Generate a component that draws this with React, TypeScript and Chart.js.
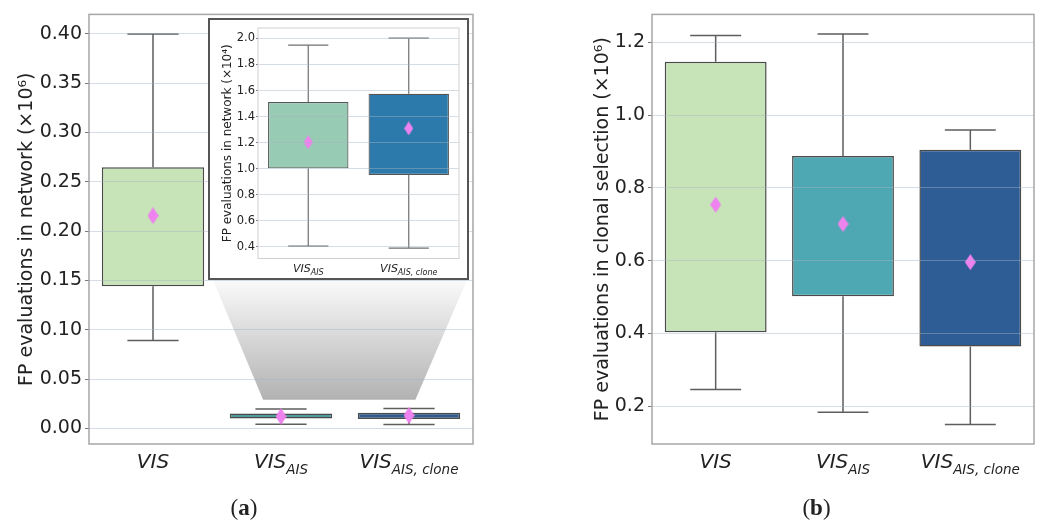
import React, { useEffect, useRef } from "react";
import { Chart, registerables } from "chart.js";

Chart.register(...registerables);

// ---------- data ----------
const CATEGORIES = ["VIS", "VIS AIS", "VIS AIS, clone"];
const CAT_MAIN = ["VIS", "VIS", "VIS"];
const CAT_SUB = ["", "AIS", "AIS, clone"];

// Panel (a): FP evaluations in network (x10^6)
const A_Q1 = [0.1442, 0.01, 0.0095];
const A_Q3 = [0.2649, 0.0151, 0.01575];
const A_MIN = [0.089, 0.00404, 0.00389];
const A_MAX = [0.4, 0.01949, 0.02];
const A_MEAN = [0.2157, 0.012, 0.0131];
const A_TICKS = [0, 0.05, 0.1, 0.15, 0.2, 0.25, 0.3, 0.35, 0.4];
const A_RANGE = [-0.0159, 0.4198];
const A_COLORS = ["#c7e3b8", "#4d9f9e", "#2f5b8c"];

// Inset of (a): FP evaluations in network (x10^4)
const IN_CATEGORIES = ["VIS AIS", "VIS AIS, clone"];
const IN_MAIN = ["VIS", "VIS"];
const IN_SUB = ["AIS", "AIS, clone"];
const IN_Q1 = [1.002, 0.952];
const IN_Q3 = [1.512, 1.575];
const IN_MIN = [0.404, 0.389];
const IN_MAX = [1.949, 2.003];
const IN_MEAN = [1.203, 1.309];
const IN_TICKS = [0.4, 0.6, 0.8, 1.0, 1.2, 1.4, 1.6, 1.8, 2.0];
const IN_RANGE = [0.3095, 2.0805];
const IN_COLORS = ["#98cbb4", "#2c7aab"];

// Zoomed region in (a) (data units)
const ZOOM_X = [0.86, 2.05];
const ZOOM_Y = 0.029;

// Panel (b): FP evaluations in clonal selection (x10^6)
const B_Q1 = [0.4035, 0.5024, 0.364];
const B_Q3 = [1.147, 0.8879, 0.9046];
const B_MIN = [0.2458, 0.1837, 0.1499];
const B_MAX = [1.2187, 1.2232, 0.9594];
const B_MEAN = [0.754, 0.701, 0.596];
const B_TICKS = [0.2, 0.4, 0.6, 0.8, 1.0, 1.2];
const B_RANGE = [0.0962, 1.2769];
const B_COLORS = ["#c7e3b8", "#4ea8b4", "#2e5d96"];

const MEAN_COLOR = "#ee82ee";
const TEXT = "#222222";
const GRID = "rgba(165,180,196,0.45)";
const FONT = "'DejaVu Sans', 'Liberation Sans', sans-serif";

// ---------- layout ----------
const INSET = { left: 208, top: 18, width: 261, height: 262, border: 2 };

function diamond(w: number, h: number, color: string) {
  const c = document.createElement("canvas");
  c.width = w;
  c.height = h;
  const x = c.getContext("2d")!;
  x.beginPath();
  x.moveTo(w / 2, 0);
  x.lineTo(w, h / 2);
  x.lineTo(w / 2, h);
  x.lineTo(0, h / 2);
  x.closePath();
  x.fillStyle = color;
  x.fill();
  return c;
}

type Spec = {
  canvas: HTMLCanvasElement;
  labels: string[];
  main: string[];
  sub: string[];
  q1: number[];
  q3: number[];
  min: number[];
  max: number[];
  mean: number[];
  colors: string[];
  range: number[];
  ticks: number[];
  digits: number;
  title: string;
  titleSize: number;
  titleX: number;
  tickSize: number;
  tickLen: number;
  tickPad: number;
  axisWidth: number;
  axisHeight: number;
  padRight: number;
  padTop: number;
  labelSize: number;
  subSize: number;
  labelOffset: number;
  subOffset: number;
  dW: number;
  dH: number;
  edgeWidth: number;
  edgeColor: string;
  whiskerWidth: number;
  whiskerColor: string;
  frameColor: string;
  frameWidth: number;
  caption?: { letter: string; x: number; y: number };
  under?: (chart: any) => void;
};

function makeChart(s: Spec) {
  const boxPlugin = {
    id: "boxparts",
    beforeDatasetsDraw(chart: any) {
      const ctx = chart.ctx;
      if (s.under) s.under(chart);
      const xs = chart.scales.x;
      const ys = chart.scales.y;
      const step = xs.getPixelForValue(1) - xs.getPixelForValue(0);
      const cap = step * 0.2;
      ctx.save();
      ctx.strokeStyle = s.whiskerColor;
      ctx.lineWidth = s.whiskerWidth;
      for (let i = 0; i < s.q1.length; i++) {
        const x = xs.getPixelForValue(i);
        const yMin = ys.getPixelForValue(s.min[i]);
        const yMax = ys.getPixelForValue(s.max[i]);
        const yQ1 = ys.getPixelForValue(s.q1[i]);
        const yQ3 = ys.getPixelForValue(s.q3[i]);
        ctx.beginPath();
        ctx.moveTo(x, yQ3);
        ctx.lineTo(x, yMax);
        ctx.moveTo(x, yQ1);
        ctx.lineTo(x, yMin);
        ctx.moveTo(x - cap, yMax);
        ctx.lineTo(x + cap, yMax);
        ctx.moveTo(x - cap, yMin);
        ctx.lineTo(x + cap, yMin);
        ctx.stroke();
      }
      ctx.restore();
    },
    afterDraw(chart: any) {
      const ctx = chart.ctx;
      const a = chart.chartArea;
      const xs = chart.scales.x;
      ctx.save();
      ctx.strokeStyle = s.frameColor;
      ctx.lineWidth = s.frameWidth;
      ctx.strokeRect(a.left, a.top, a.right - a.left, a.bottom - a.top);
      ctx.fillStyle = TEXT;
      ctx.textBaseline = "alphabetic";
      ctx.textAlign = "left";
      for (let i = 0; i < s.main.length; i++) {
        const x = xs.getPixelForValue(i);
        ctx.font = `italic ${s.labelSize}px ${FONT}`;
        const wm = ctx.measureText(s.main[i]).width;
        ctx.font = `italic ${s.subSize}px ${FONT}`;
        const ws = s.sub[i] ? ctx.measureText(s.sub[i]).width : 0;
        const x0 = x - (wm + ws) / 2;
        const yb = a.bottom + s.labelOffset;
        ctx.font = `italic ${s.labelSize}px ${FONT}`;
        ctx.fillText(s.main[i], x0, yb);
        if (s.sub[i]) {
          ctx.font = `italic ${s.subSize}px ${FONT}`;
          ctx.fillText(s.sub[i], x0 + wm, yb + s.subOffset);
        }
      }
      if (s.caption) {
        const c = s.caption;
        const f1 = `23px 'Liberation Serif', serif`;
        const f2 = `bold 23px 'Liberation Serif', serif`;
        ctx.font = f1;
        const wp = ctx.measureText("(").width;
        const wq = ctx.measureText(")").width;
        ctx.font = f2;
        const wl = ctx.measureText(c.letter).width;
        let x = c.x - (wp + wl + wq) / 2;
        ctx.font = f1;
        ctx.fillText("(", x, c.y);
        x += wp;
        ctx.font = f2;
        ctx.fillText(c.letter, x, c.y);
        x += wl;
        ctx.font = f1;
        ctx.fillText(")", x, c.y);
      }
      ctx.restore();
    },
  };

  return new Chart(s.canvas, {
    type: "bar",
    data: {
      labels: s.labels,
      datasets: [
        {
          type: "line",
          data: s.mean,
          showLine: false,
          pointStyle: diamond(s.dW, s.dH, MEAN_COLOR) as any,
          pointRadius: 8,
          borderWidth: 0,
          order: 0,
        } as any,
        {
          type: "bar",
          data: s.q1.map((v, i) => [v, s.q3[i]]),
          backgroundColor: s.colors,
          borderColor: s.edgeColor,
          borderWidth: s.edgeWidth,
          borderSkipped: false,
          barPercentage: 0.8,
          categoryPercentage: 1,
          order: 1,
        } as any,
      ],
    },
    options: {
      responsive: false,
      animation: false,
      devicePixelRatio: 1,
      events: [],
      layout: { padding: { left: 0, right: s.padRight, top: s.padTop, bottom: 0 } },
      plugins: { legend: { display: false }, tooltip: { enabled: false } },
      scales: {
        x: {
          type: "category",
          offset: true,
          ticks: { display: false },
          grid: { display: false },
          border: { display: false },
          afterFit: (sc: any) => {
            sc.height = s.axisHeight;
          },
        },
        y: {
          type: "linear",
          min: s.range[0],
          max: s.range[1],
          afterBuildTicks: (sc: any) => {
            sc.ticks = s.ticks.map((v) => ({ value: v }));
          },
          ticks: {
            callback: (v: any) => Number(v).toFixed(s.digits),
            font: { family: FONT, size: s.tickSize },
            color: TEXT,
            padding: s.tickPad,
          },
          grid: {
            color: GRID,
            tickColor: "#777",
            tickLength: s.tickLen,
            lineWidth: 1,
            z: 1,
          },
          border: { display: false },
          title: {
            display: true,
            text: s.title,
            color: TEXT,
            font: { family: FONT, size: s.titleSize },
            padding: { top: s.titleX - (s.titleSize * 1.2) / 2, bottom: 0 },
          },
          afterFit: (sc: any) => {
            sc.width = s.axisWidth;
          },
        },
      },
    } as any,
    plugins: [boxPlugin],
  });
}

export default function App() {
  const aRef = useRef<HTMLCanvasElement>(null);
  const bRef = useRef<HTMLCanvasElement>(null);
  const iRef = useRef<HTMLCanvasElement>(null);

  useEffect(() => {
    const common = {
      titleSize: 19,
      tickSize: 19,
      tickLen: 4,
      tickPad: 3,
      axisHeight: 81,
      padTop: 12,
      labelSize: 20,
      subSize: 13.5,
      labelOffset: 23.5,
      subOffset: 6.5,
      dW: 11,
      dH: 17,
      edgeWidth: 1.5,
      edgeColor: "#4a4a4a",
      whiskerWidth: 1.5,
      whiskerColor: "#5e5e5e",
      frameColor: "#a6a6a6",
      frameWidth: 1.5,
      digits: 2,
    };
    const chartA = makeChart({
      ...common,
      canvas: aRef.current!,
      labels: CATEGORIES,
      main: CAT_MAIN,
      sub: CAT_SUB,
      q1: A_Q1,
      q3: A_Q3,
      min: A_MIN,
      max: A_MAX,
      mean: A_MEAN,
      colors: A_COLORS,
      range: A_RANGE,
      ticks: A_TICKS,
      title: "FP evaluations in network (×10⁶)",
      titleX: 27,
      axisWidth: 89,
      padRight: 530 - 473,
      caption: { letter: "a", x: 244, y: 515 },
      under: (chart: any) => {
        const ctx = chart.ctx;
        const xs = chart.scales.x;
        const ys = chart.scales.y;
        const yb = ys.getPixelForValue(ZOOM_Y);
        const xl = xs.getPixelForValue(ZOOM_X[0]);
        const xr = xs.getPixelForValue(ZOOM_X[1]);
        const yt = INSET.top + INSET.height;
        const tl = INSET.left + 5;
        const tr = INSET.left + INSET.width - 2;
        const g = ctx.createLinearGradient(0, yt, 0, yb);
        g.addColorStop(0, "rgba(250,250,250,1)");
        g.addColorStop(1, "rgba(178,178,178,1)");
        ctx.save();
        ctx.beginPath();
        ctx.moveTo(tl, yt);
        ctx.lineTo(tr, yt);
        ctx.lineTo(xr, yb);
        ctx.lineTo(xl, yb);
        ctx.closePath();
        ctx.fillStyle = g;
        ctx.fill();
        ctx.restore();
      },
    });
    const chartB = makeChart({
      ...common,
      canvas: bRef.current!,
      labels: CATEGORIES,
      main: CAT_MAIN,
      sub: CAT_SUB,
      q1: B_Q1,
      q3: B_Q3,
      min: B_MIN,
      max: B_MAX,
      mean: B_MEAN,
      colors: B_COLORS,
      range: B_RANGE,
      ticks: B_TICKS,
      digits: 1,
      title: "FP evaluations in clonal selection (×10⁶)",
      titleX: 602.8 - 530,
      axisWidth: 652 - 530,
      padRight: 1056 - 1034,
      dH: 16,
      caption: { letter: "b", x: 816.5 - 530, y: 515 },
    });
    const chartI = makeChart({
      canvas: iRef.current!,
      labels: IN_CATEGORIES,
      main: IN_MAIN,
      sub: IN_SUB,
      q1: IN_Q1,
      q3: IN_Q3,
      min: IN_MIN,
      max: IN_MAX,
      mean: IN_MEAN,
      colors: IN_COLORS,
      range: IN_RANGE,
      ticks: IN_TICKS,
      digits: 1,
      title: "FP evaluations in network (×10⁴)",
      titleSize: 12,
      titleX: 18,
      tickSize: 11.5,
      tickLen: 2,
      tickPad: 1,
      axisWidth: 48,
      axisHeight: 19.5,
      padRight: 2,
      padTop: 3,
      labelSize: 11,
      subSize: 8,
      labelOffset: 13.5,
      subOffset: 3,
      dW: 9,
      dH: 14,
      edgeWidth: 1.2,
      edgeColor: "#555",
      whiskerWidth: 1.2,
      whiskerColor: "#707070",
      frameColor: "#cfcfcf",
      frameWidth: 1,
    });
    return () => {
      chartA.destroy();
      chartB.destroy();
      chartI.destroy();
    };
  }, []);

  return (
    <div
      style={{
        position: "fixed",
        left: 0,
        top: 0,
        width: 1056,
        height: 525,
        background: "#fff",
        overflow: "hidden",
      }}
    >
      <canvas
        ref={aRef}
        width={530}
        height={525}
        style={{ position: "absolute", left: 0, top: 0, width: 530, height: 525 }}
      />
      <canvas
        ref={bRef}
        width={526}
        height={525}
        style={{ position: "absolute", left: 530, top: 0, width: 526, height: 525 }}
      />
      <div
        style={{
          position: "absolute",
          left: INSET.left,
          top: INSET.top,
          width: INSET.width,
          height: INSET.height,
          boxSizing: "border-box",
          border: `${INSET.border}px solid #555`,
          background: "#fff",
        }}
      >
        <canvas
          ref={iRef}
          width={INSET.width - 2 * INSET.border}
          height={INSET.height - 2 * INSET.border}
          style={{
            display: "block",
            width: INSET.width - 2 * INSET.border,
            height: INSET.height - 2 * INSET.border,
          }}
        />
      </div>
    </div>
  );
}
